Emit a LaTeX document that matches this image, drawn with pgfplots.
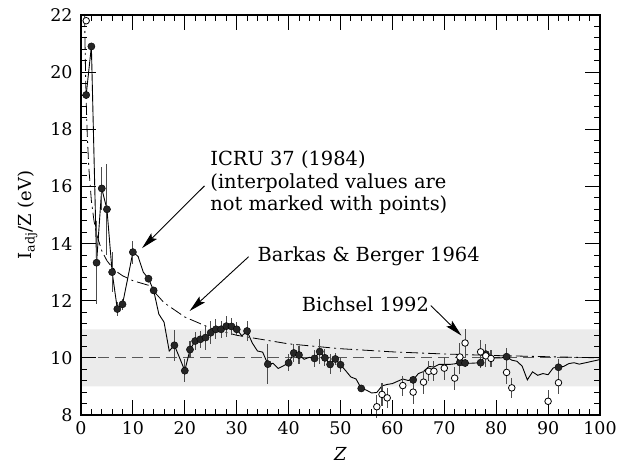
\documentclass[border=0pt]{standalone}
\usepackage{fontspec}
\setmainfont{DejaVu Serif}
\usepackage{pgfplots}
\pgfplotsset{compat=1.18}
\usetikzlibrary{arrows.meta}

% ICRU 37 I/Z values, every element (solid line)
\pgfplotstableread{
Z y
1 19.2
2 20.9
3 13.33
4 15.93
5 15.2
6 13.0
7 11.71
8 11.875
9 12.78
10 13.7
11 13.55
12 13.0
13 12.77
14 12.36
15 11.53
16 11.25
17 10.24
18 10.44
19 10.0
20 9.55
21 10.29
22 10.59
23 10.65
24 10.71
25 10.88
26 11.0
27 11.0
28 11.11
29 11.10
30 11.0
31 10.77
32 10.94
33 10.52
34 10.24
35 10.2
36 9.78
37 9.81
38 9.63
39 9.72
40 9.825
41 10.17
42 10.10
43 9.95
44 10.02
45 9.98
46 10.22
47 10.0
48 9.77
49 9.96
50 9.76
51 9.55
52 9.33
53 9.26
54 8.93
55 8.87
56 8.77
57 8.79
58 9.02
59 9.07
60 9.1
61 9.18
62 9.26
63 9.21
64 9.23
65 9.45
66 9.52
67 9.70
68 9.68
69 9.77
70 9.77
71 9.77
72 9.79
73 9.84
74 9.82
75 9.81
76 9.82
77 9.83
78 10.13
79 10.0
80 10.0
81 10.0
82 10.04
83 9.92
84 9.88
85 9.71
86 9.23
87 9.51
88 9.39
89 9.45
90 9.41
91 9.65
92 9.67
93 9.70
94 9.80
95 9.83
96 9.78
97 9.82
98 9.86
99 9.90
100 9.94
}\icru

% measured values (filled points)
\pgfplotstableread{
Z y e
1 19.2 0.1
2 20.9 0.1
3 13.33 1.45
4 15.93 0.75
5 15.2 1.6
6 13.0 0.7
7 11.71 0.25
8 11.875 0.2
10 13.7 0.4
13 12.77 0.1
14 12.36 0.1
18 10.44 0.55
20 9.55 0.4
21 10.29 0.3
22 10.59 0.3
23 10.65 0.3
24 10.71 0.45
25 10.88 0.4
26 11.0 0.35
27 11.0 0.3
28 11.11 0.37
29 11.10 0.3
30 11.0 0.25
32 10.94 0.35
36 9.78 0.7
40 9.825 0.3
41 10.17 0.3
42 10.10 0.3
45 9.98 0.3
46 10.22 0.45
47 10.0 0.3
48 9.77 0.35
49 9.96 0.2
50 9.76 0.25
54 8.93 0.05
64 9.23 0.15
73 9.84 0.4
74 9.82 0.15
77 9.83 0.2
78 10.13 0.2
82 10.04 0.3
92 9.67 0.3
}\filled

% Bichsel 1992 (open points)
\pgfplotstableread{
Z y e
1 21.8 0.0
57 8.29 0.4
58 8.72 0.4
59 8.60 0.35
62 9.03 0.35
64 8.80 0.4
66 9.15 0.4
67 9.53 0.35
68 9.53 0.35
70 9.64 0.4
72 9.29 0.4
73 10.03 0.5
74 10.52 0.5
77 10.21 0.4
78 10.07 0.4
79 9.98 0.3
82 9.49 0.4
83 8.95 0.35
90 8.48 0.4
92 9.13 0.4
}\bichsel

\begin{document}
\begin{tikzpicture}
\begin{axis}[
scale only axis,
width=519bp, height=400bp,
xmin=0, xmax=100, ymin=8, ymax=22,
xtick={0,10,...,100}, ytick={8,10,...,22},
minor x tick num=4, minor y tick num=4,
major tick length=15bp, minor tick length=6bp,
tick style={black, line width=0.9bp},
axis line style={line width=1.2bp},
axis on top,
clip=false,
/pgf/number format/assume math mode=true,
ticklabel style={font=\fontsize{17.5}{20}\selectfont},
xticklabel style={yshift=-3bp},
yticklabel style={xshift=-5bp},
xlabel={\textit{Z}},
ylabel={I\textsubscript{adj}/Z (eV)},
label style={font=\fontsize{18}{21}\selectfont},
xlabel style={yshift=-6bp},
ylabel style={yshift=6bp},
]
% band and reference line
\addplot[fill=black!8, draw=none] coordinates {(0,9) (100,9) (100,11) (0,11) (0,9)};
\addplot[black!65, line width=1.2bp, dash pattern=on 11bp off 6bp] coordinates {(0,10) (100,10)};

% Barkas & Berger 1964
\addplot[black, line width=0.8bp, dash pattern=on 12bp off 4bp on 2bp off 4bp] coordinates {
(0.7,22.0)(0.8,20.75)(0.9,19.78)(1,19.0)(1.2,17.83)(1.5,16.67)(2,15.5)(2.5,14.8)
(3,14.33)(4,13.75)(5,13.4)(6,13.17)(7,13.0)(8,12.875)(10,12.7)(13,12.54)
(16,11.93)(20,11.43)(25,11.04)(30,10.79)(40,10.49)(50,10.32)(60,10.21)
(70,10.135)(80,10.08)(90,10.04)(100,10.0)
};

% ICRU 37
\addplot[black, line width=0.9bp] table[x=Z, y=y] {\icru};

% data with error bars
\addplot[only marks, mark=*, mark size=3.6bp, mark options={fill=black!85, draw=black},
  error bars/.cd, y dir=both, y explicit, error mark=none,
  error bar style={black!70, line width=1.1bp}]
  table[x=Z, y=y, y error=e] {\filled};
\addplot[only marks, mark=*, mark size=3.3bp, mark options={fill=white, draw=black, line width=0.8bp},
  error bars/.cd, y dir=both, y explicit, error mark=none,
  error bar style={black!70, line width=1.1bp}]
  table[x=Z, y=y, y error=e] {\bichsel};

% annotations
\node[anchor=west, align=left, inner sep=0pt, font=\fontsize{19.5}{22.5}\selectfont]
  at (axis cs:24.9,16.13) {ICRU 37 (1984)\\(interpolated values are\\not marked with points)};
\draw[-{Stealth[length=17bp, width=8bp, inset=3bp]}, line width=0.9bp]
  (axis cs:23.8,16.02) -- (axis cs:11.76,13.84);
\node[anchor=west, inner sep=0pt, font=\fontsize{19.5}{22.5}\selectfont]
  at (axis cs:34.0,13.54) {Barkas \& Berger 1964};
\draw[-{Stealth[length=17bp, width=8bp, inset=3bp]}, line width=0.9bp]
  (axis cs:32.3,13.54) -- (axis cs:20.93,11.64);
\node[anchor=west, inner sep=0pt, font=\fontsize{19.5}{22.5}\selectfont]
  at (axis cs:42.5,11.86) {Bichsel 1992};
\draw[-{Stealth[length=17bp, width=8bp, inset=3bp]}, line width=0.9bp]
  (axis cs:67.4,11.83) -- (axis cs:73.3,10.78);
\end{axis}
\path (current axis.south west) ++(-81bp,-55bp) coordinate (bl);
\path (current axis.north east) ++(20bp,15bp) coordinate (tr);
\pgfresetboundingbox
\path[use as bounding box] (bl) rectangle (tr);
\end{tikzpicture}
\end{document}
